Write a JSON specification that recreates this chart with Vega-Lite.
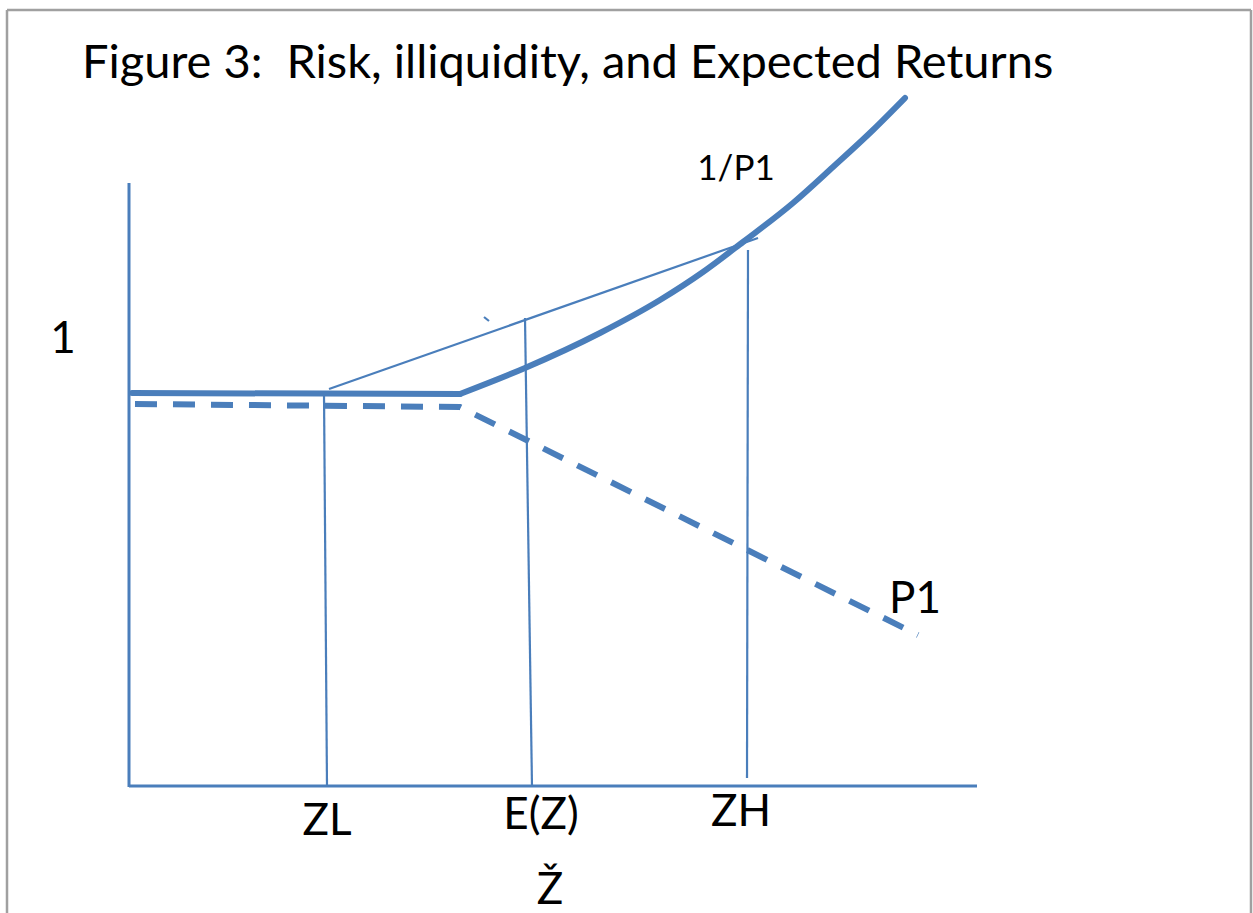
{
  "$schema": "https://vega.github.io/schema/vega-lite/v6.json",
  "width": 1253,
  "height": 913,
  "padding": 0,
  "autosize": {"type": "none"},
  "background": "white",
  "config": {"view": {"stroke": null}},
  "datasets": {
    "frame": [
      {"side": "left", "i": 0, "x": -1.23, "y": -1.26},
      {"side": "left", "i": 1, "x": -1.23, "y": 7.77},
      {"side": "top", "i": 0, "x": -1.23, "y": 7.77},
      {"side": "top", "i": 1, "x": 11.21, "y": 7.77},
      {"side": "right", "i": 0, "x": 11.21, "y": 7.77},
      {"side": "right", "i": 1, "x": 11.21, "y": -1.26}
    ],
    "axes": [
      {"id": "vertical", "i": 0, "x": -0.01, "y": 6.04},
      {"id": "vertical", "i": 1, "x": -0.01, "y": 0.0},
      {"id": "horizontal", "i": 0, "x": -0.01, "y": 0.01},
      {"id": "horizontal", "i": 1, "x": 8.47, "y": 0.01}
    ],
    "guides": [
      {"id": "ZL", "i": 0, "x": 1.94, "y": 3.94},
      {"id": "ZL", "i": 1, "x": 1.97, "y": 0.0},
      {"id": "EZ", "i": 0, "x": 3.95, "y": 4.69},
      {"id": "EZ", "i": 1, "x": 4.02, "y": 0.0},
      {"id": "ZH", "i": 0, "x": 6.18, "y": 5.37},
      {"id": "ZH", "i": 1, "x": 6.17, "y": 0.09},
      {"id": "chord", "i": 0, "x": 1.99, "y": 3.98},
      {"id": "chord", "i": 1, "x": 6.28, "y": 5.49},
      {"id": "tick", "i": 0, "x": 3.54, "y": 4.70},
      {"id": "tick", "i": 1, "x": 3.59, "y": 4.66}
    ],
    "invP1": [
      {"part": "flat", "i": 0, "x": 0.02, "y": 3.94},
      {"part": "flat", "i": 1, "x": 3.30, "y": 3.93},
      {"part": "rising", "i": 1, "x": 3.30, "y": 3.93},
      {"part": "rising", "i": 2, "x": 3.95, "y": 4.19},
      {"part": "rising", "i": 3, "x": 4.70, "y": 4.54},
      {"part": "rising", "i": 4, "x": 5.30, "y": 4.87},
      {"part": "rising", "i": 5, "x": 5.73, "y": 5.15},
      {"part": "rising", "i": 6, "x": 6.13, "y": 5.45},
      {"part": "rising", "i": 7, "x": 6.63, "y": 5.84},
      {"part": "rising", "i": 8, "x": 7.03, "y": 6.20},
      {"part": "rising", "i": 9, "x": 7.43, "y": 6.57},
      {"part": "rising", "i": 10, "x": 7.75, "y": 6.89}
    ],
    "P1": [
      {"i": 0, "x": 0.05, "y": 3.83},
      {"i": 1, "x": 3.30, "y": 3.80},
      {"i": 2, "x": 7.88, "y": 1.52}
    ],
    "labels": [
      {"text": "1", "x": -0.67, "y": 4.34},
      {"text": "P1", "x": 7.85, "y": 1.74},
      {"text": "ZL", "x": 1.97, "y": -0.48},
      {"text": "E(Z)", "x": 4.11, "y": -0.42},
      {"text": "ZH", "x": 6.11, "y": -0.39},
      {"text": "Ž", "x": 4.20, "y": -1.17}
    ],
    "small": [
      {"text": "1/P1", "x": 6.06, "y": 6.07}
    ],
    "title": [
      {"text": "Figure 3: \u00a0Risk, illiquidity, and Expected Returns", "x": -0.48, "y": 7.09}
    ]
  },
  "encoding": {
    "x": {"field": "x", "type": "quantitative", "scale": {"domain": [-1.30, 11.23], "nice": false, "zero": false}, "axis": null},
    "y": {"field": "y", "type": "quantitative", "scale": {"domain": [-1.26, 7.87], "nice": false, "zero": false}, "axis": null}
  },
  "layer": [
    {
      "data": {"name": "frame"},
      "mark": {"type": "line", "stroke": "#a0a0a0", "strokeWidth": 2.5, "clip": false},
      "encoding": {"detail": {"field": "side"}, "order": {"field": "i"}}
    },
    {
      "data": {"name": "axes"},
      "mark": {"type": "line", "stroke": "#4a7ebb", "strokeWidth": 3},
      "encoding": {"detail": {"field": "id"}, "order": {"field": "i"}}
    },
    {
      "data": {"name": "guides"},
      "mark": {"type": "line", "stroke": "#4a7ebb", "strokeWidth": 2.2},
      "encoding": {"detail": {"field": "id"}, "order": {"field": "i"}}
    },
    {
      "data": {"name": "invP1"},
      "mark": {"type": "line", "stroke": "#4a7ebb", "strokeWidth": 6, "interpolate": "monotone", "strokeCap": "round", "strokeJoin": "round"},
      "encoding": {"detail": {"field": "part"}, "order": {"field": "i"}}
    },
    {
      "data": {"name": "P1"},
      "mark": {"type": "line", "stroke": "#4a7ebb", "strokeWidth": 6, "strokeDash": [22, 16], "strokeCap": "butt"},
      "encoding": {"order": {"field": "i"}}
    },
    {
      "data": {"name": "labels"},
      "mark": {"type": "text", "font": "Lato", "fontSize": 44, "align": "center", "baseline": "alphabetic", "color": "black"},
      "encoding": {"text": {"field": "text"}}
    },
    {
      "data": {"name": "small"},
      "mark": {"type": "text", "font": "Lato", "fontSize": 35, "align": "center", "baseline": "alphabetic", "color": "black"},
      "encoding": {"text": {"field": "text"}}
    },
    {
      "data": {"name": "title"},
      "mark": {"type": "text", "font": "Lato", "fontSize": 47, "align": "left", "baseline": "alphabetic", "color": "black"},
      "encoding": {"text": {"field": "text"}}
    }
  ]
}
